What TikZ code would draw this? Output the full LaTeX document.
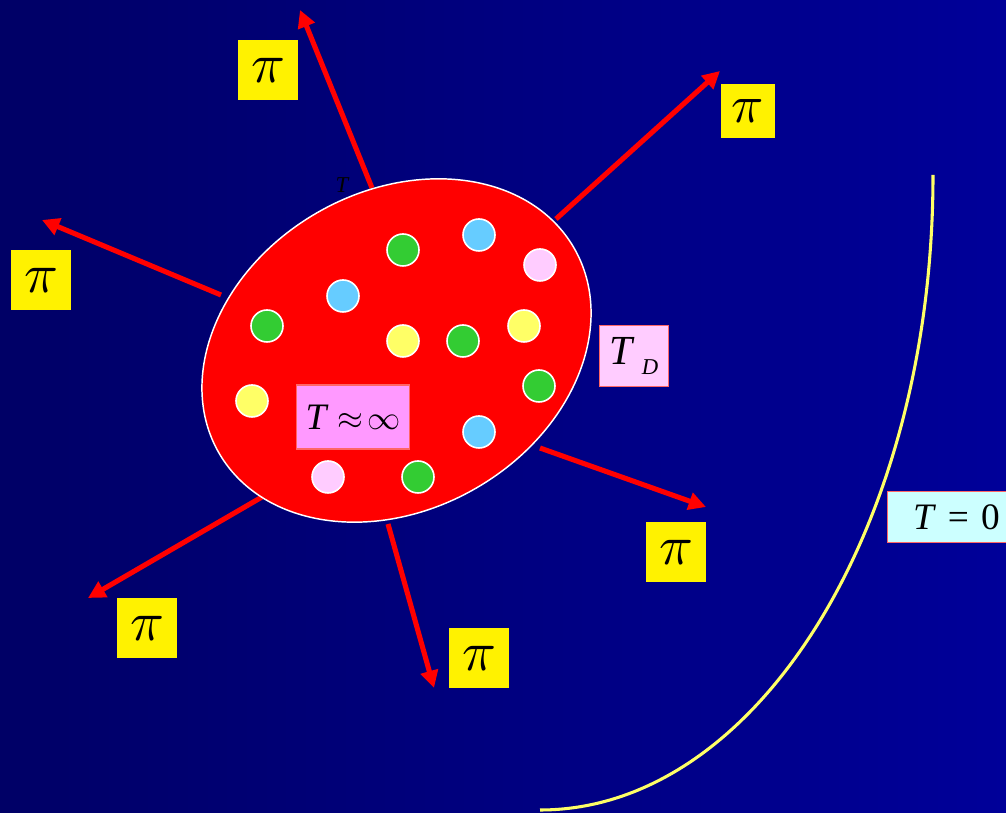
\documentclass[tikz,border=0pt]{standalone}
\usepackage{fontspec}
\setmainfont{Liberation Serif}
\usetikzlibrary{arrows.meta, shapes.geometric}
\definecolor{bgleft}{HTML}{000066}
\definecolor{bgright}{HTML}{000099}
\definecolor{dotgreen}{HTML}{33CC33}
\definecolor{dotblue}{HTML}{66CCFF}
\definecolor{dotpink}{HTML}{FFCCFF}
\definecolor{dotyellow}{HTML}{FFFF66}
\definecolor{tborder}{HTML}{FF6666}
\definecolor{tinffill}{HTML}{FF99FF}
\definecolor{tzerofill}{HTML}{CCFFFF}

\begin{document}
\begin{tikzpicture}[x=0.75pt, y=0.75pt,
  dot/.style={circle, draw=white, line width=1.2pt, minimum size=24pt, inner sep=0pt},
  pibox/.style={fill=yellow, minimum size=45pt, inner sep=0pt},
  tbox/.style={draw=tborder, line width=1pt, inner sep=0pt},
  ray/.style={red, line width=3.8pt, -{Triangle[length=13pt, width=13pt]}}]
 \useasboundingbox (0,0) rectangle (1006,813);
 \shade[left color=bgleft, right color=bgright] (0,0) rectangle (1006,813);
 \draw[dotyellow, line width=2.3pt] (540,3) arc[start angle=-90, end angle=0, x radius=393, y radius=635];
 \node[font=\fontsize{17}{17}\selectfont\itshape] (tsmall) at (342,628) {T};
 \coordinate (s1) at (372,625); \coordinate (e1) at (300,803);
 \coordinate (s2) at (556,594); \coordinate (e2) at (720,742);
 \coordinate (s3) at (221,518); \coordinate (e3) at (42,593);
 \coordinate (s4) at (540,365); \coordinate (e4) at (706,306);
 \coordinate (s5) at (262,316); \coordinate (e5) at (88,215);
 \coordinate (s6) at (388,289); \coordinate (e6) at (434,125);
 \draw[ray] (s1) -- (e1);
 \draw[ray] (s2) -- (e2);
 \draw[ray] (s3) -- (e3);
 \draw[ray] (s4) -- (e4);
 \draw[ray] (s5) -- (e5);
 \draw[ray] (s6) -- (e6);
 \draw[fill=red, draw=white, line width=1.1pt] (396.5,462.5) ellipse [x radius=205, y radius=159, rotate=30];
 \node[dot, fill=dotgreen] (g1) at (403,563){};
 \node[dot, fill=dotblue] (b1) at (479,578){};
 \node[dot, fill=dotpink] (p1) at (540,548){};
 \node[dot, fill=dotblue] (b2) at (343,517){};
 \node[dot, fill=dotgreen] (g2) at (267,487){};
 \node[dot, fill=dotyellow] (y1) at (403,472){};
 \node[dot, fill=dotgreen] (g3) at (463,472){};
 \node[dot, fill=dotyellow] (y2) at (524,487){};
 \node[dot, fill=dotgreen] (g4) at (539,427){};
 \node[dot, fill=dotyellow] (y3) at (252,412){};
 \node[dot, fill=dotblue] (b3) at (479,381){};
 \node[dot, fill=dotpink] (p2) at (328,336){};
 \node[dot, fill=dotgreen] (g5) at (418,336){};
 \node[tbox, fill=tinffill, minimum width=85pt, minimum height=48pt, font=\fontsize{28}{28}\selectfont] (tinf) at (353,396){\textit{T}\ $\approx\!\infty$};
 \node[tbox, fill=dotpink, minimum width=52pt, minimum height=46pt, font=\fontsize{31}{31}\selectfont] (td) at (634,457){\textit{T}\,\raisebox{-8pt}{\fontsize{17}{17}\selectfont\textit{D}}};
 \node[tbox, fill=tzerofill, minimum width=100pt, minimum height=38pt, anchor=west, font=\fontsize{28}{28}\selectfont] (tzero) at (887,296){\hspace{3pt}\textit{T}\hspace{9pt}=\hspace{9pt}0\hfill};
 \node[pibox] (pi1) at (268,743){\scalebox{4.2}{$\pi$}};
 \node[pibox, minimum size=41pt] (pi2) at (748,702){\scalebox{4}{$\pi$}};
 \node[pibox] (pi3) at (41,533){\scalebox{4.2}{$\pi$}};
 \node[pibox] (pi4) at (676,261){\scalebox{4.2}{$\pi$}};
 \node[pibox] (pi5) at (147,185){\scalebox{4.2}{$\pi$}};
 \node[pibox] (pi6) at (479,155){\scalebox{4.2}{$\pi$}};
\end{tikzpicture}
\end{document}
